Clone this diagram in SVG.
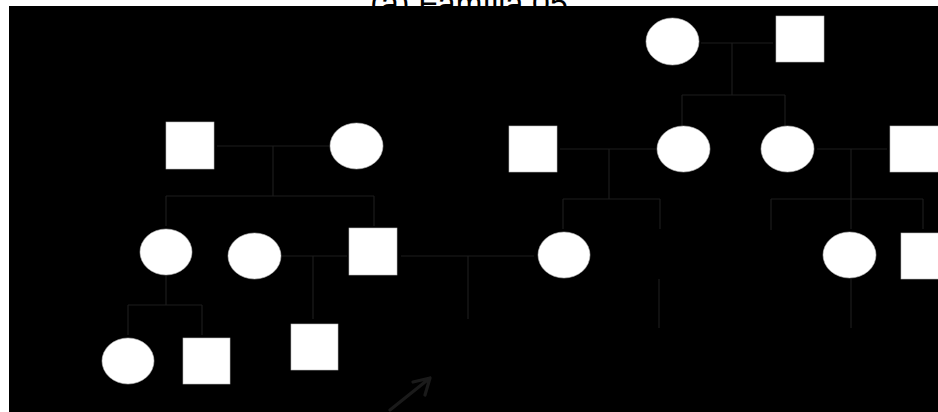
<svg xmlns="http://www.w3.org/2000/svg" width="938" height="412" viewBox="0 0 938 412">
<style>
.bg{fill:#000}
.m,.f{fill:#fff;stroke:#bbb;stroke-width:0.6}
.c path{fill:none;stroke:#1c1c1c;stroke-width:1.2}
.c .arrow{stroke:#1a1a1a;stroke-width:3.2;stroke-linecap:round;stroke-linejoin:round}
.title{font-family:"Liberation Sans",Arial,sans-serif;font-size:32px;fill:#000}
</style>
<rect width="938" height="412" fill="#fff"/>
<text class="title" x="469" y="14" text-anchor="middle">(a) Família 05</text>
<rect class="bg" x="9" y="6" width="929" height="406"/>
<g id="connectors" class="c">
<path d="M217,146 H329 M273,146 V196 M166,196 H374 M166,196 V226 M374,196 V226"/>
<path d="M282,256 H347 M313,256 V319"/>
<path d="M401,256 H534 M468,256 V319"/>
<path d="M166,276 V305 M128,305 H202 M128,305 V335 M202,305 V335"/>
<path d="M701,43 H773 M732,43 V95 M682,95 H785 M682,95 V126 M785,95 V126"/>
<path d="M560,149 H656 M609,149 V199 M563,199 H660 M563,199 V229 M660,199 V229"/>
<path d="M817,149 H887 M851,149 V199 M771,199 H923 M771,199 V230 M851,199 V229 M923,199 V229"/>
<path d="M659,279 V328 M851,279 V328"/>
<path class="arrow" d="M390,410 L430,378 M413,382 L430,378 L425,395"/>
</g>
<g id="n1"><rect class="m" x="166" y="122" width="48" height="47"/></g>
<g id="n2"><ellipse class="f" cx="356.5" cy="146" rx="26.5" ry="23"/></g>
<g id="n3"><ellipse class="f" cx="166" cy="252" rx="26" ry="23"/></g>
<g id="n4"><ellipse class="f" cx="254.5" cy="256" rx="26.5" ry="23"/></g>
<g id="n5"><rect class="m" x="349" y="228" width="48" height="47"/></g>
<g id="n6"><ellipse class="f" cx="564" cy="255" rx="26" ry="23"/></g>
<g id="n7"><ellipse class="f" cx="128" cy="361" rx="26" ry="23"/></g>
<g id="n8"><rect class="m" x="183" y="338" width="47" height="46"/></g>
<g id="n9"><rect class="m" x="291" y="324" width="47" height="46"/></g>
<g id="n10"><ellipse class="f" cx="672.5" cy="41.5" rx="26.5" ry="23.5"/></g>
<g id="n11"><rect class="m" x="776" y="16" width="48" height="46"/></g>
<g id="n12"><rect class="m" x="509" y="126" width="48" height="46"/></g>
<g id="n13"><ellipse class="f" cx="683.5" cy="149" rx="26.5" ry="23"/></g>
<g id="n14"><ellipse class="f" cx="787.5" cy="149" rx="26.5" ry="23"/></g>
<g id="n15"><rect class="m" x="890" y="126" width="50" height="46"/></g>
<g id="n16"><ellipse class="f" cx="849.5" cy="255" rx="26.5" ry="23"/></g>
<g id="n17"><rect class="m" x="901" y="233" width="40" height="46"/></g>
</svg>
